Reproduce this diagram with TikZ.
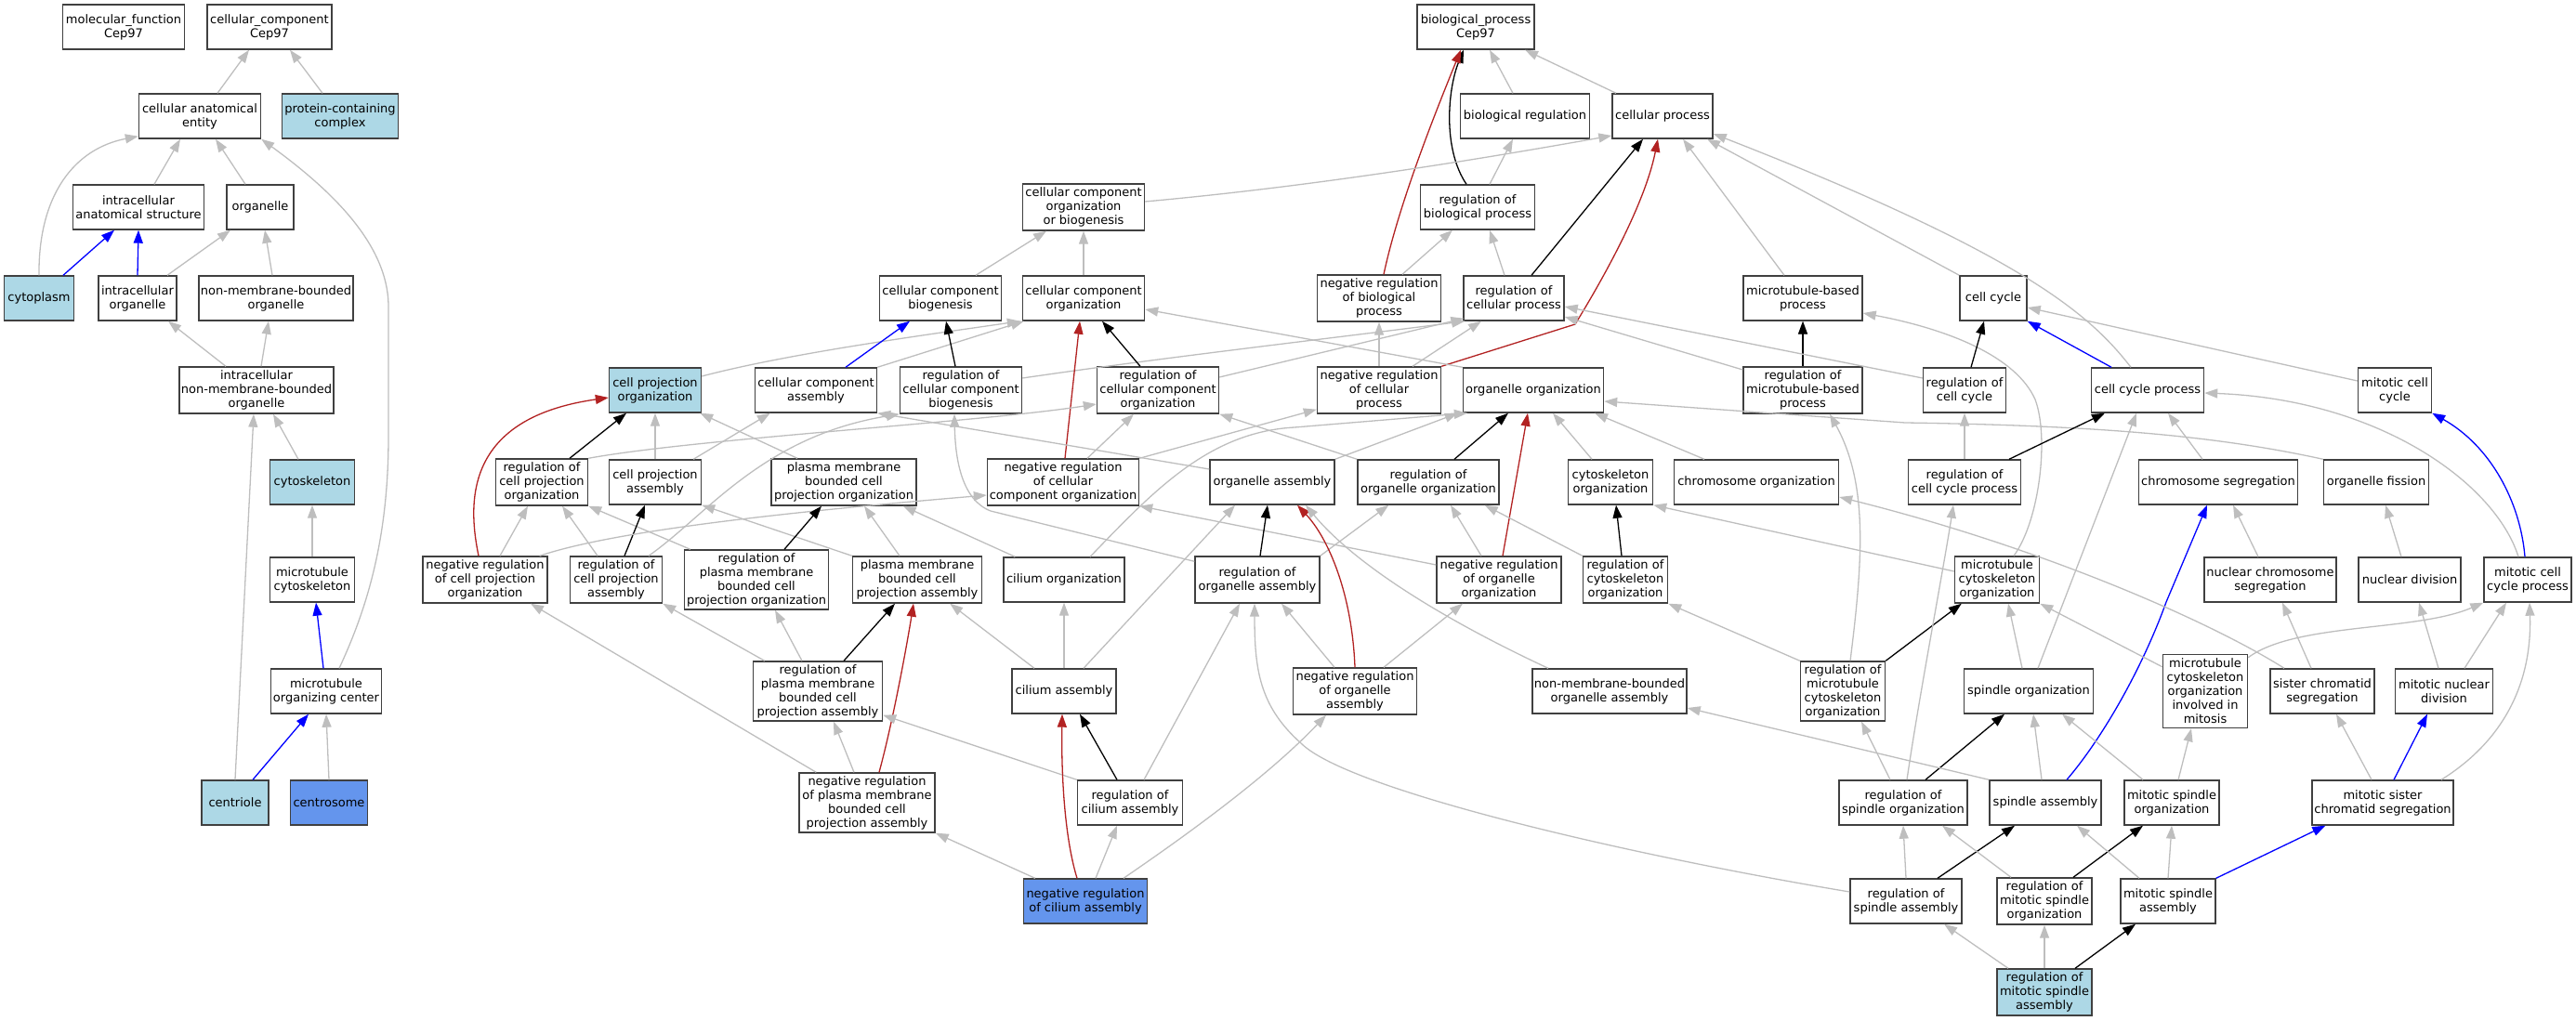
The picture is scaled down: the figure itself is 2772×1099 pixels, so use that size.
\documentclass[tikz,border=0pt]{standalone}
\usepackage{fontspec}
\setmainfont{DejaVu Sans}
\usetikzlibrary{arrows.meta}
\definecolor{lblue}{RGB}{173,216,230}
\definecolor{cblue}{RGB}{100,149,237}
\definecolor{egrey}{RGB}{190,190,190}
\definecolor{ered}{RGB}{178,34,34}
\definecolor{eblue}{RGB}{0,0,255}

\begin{document}
\begin{tikzpicture}[x=1pt, y=-1pt,
	box/.style={draw=black!75, line width=1.4pt, inner sep=0pt, align=center, font=\fontsize{13}{15}\selectfont},
	bx/.style 2 args={box, minimum width=#1, minimum height=#2},
	hit/.style={fill=lblue}, seed/.style={fill=cblue},
	isa/.style={draw=egrey, line width=1.3pt, -{Triangle[length=14pt,width=10pt]}},
	reg/.style={isa, draw=black},
	neg/.style={isa, draw=ered},
	partof/.style={isa, draw=eblue}]
	\useasboundingbox (0,0) rectangle (2772,1099);

	% cellular component
	\node[bx={131}{48}] (mf) at (133,29) {molecular\_function\\Cep97};
	\node[bx={134}{48}] (cc) at (290,29) {cellular\_component\\Cep97};
	\node[bx={131}{48}] (cae) at (215,125) {cellular anatomical\\entity};
	\node[bx={125}{48}, hit] (pcc) at (366,125) {protein-containing\\complex};
	\node[bx={141}{48}] (ias) at (149,223) {intracellular\\anatomical structure};
	\node[bx={72}{48}] (org) at (280,223) {organelle};
	\node[bx={75}{48}, hit] (cyto) at (42,321) {cytoplasm};
	\node[bx={84}{48}] (io) at (148,321) {intracellular\\organelle};
	\node[bx={166}{48}] (nmbo) at (297,321) {non-membrane-bounded\\organelle};
	\node[bx={166}{50}] (inmbo) at (276,420) {intracellular\\non-membrane-bounded\\organelle};
	\node[bx={91}{48}, hit] (csk) at (336,519) {cytoskeleton};
	\node[bx={91}{48}] (mtc) at (336,624) {microtubule\\cytoskeleton};
	\node[bx={119}{48}] (mtoc) at (351,744) {microtubule\\organizing center};
	\node[bx={72}{48}, hit] (cen) at (253,864) {centriole};
	\node[bx={83}{48}, seed] (csome) at (354,864) {centrosome};

	% biological process
	\node[bx={126}{48}] (bp) at (1588,29) {biological\_process\\Cep97};
	\node[bx={139}{48}] (breg) at (1641,125) {biological regulation};
	\node[bx={108}{48}] (cp) at (1789,125) {cellular process};
	\node[bx={131}{50}] (ccob) at (1166,223) {cellular component\\organization\\or biogenesis};
	\node[bx={123}{48}] (rbp) at (1590,223) {regulation of\\biological process};
	\node[bx={131}{48}] (ccb) at (1012,321) {cellular component\\biogenesis};
	\node[bx={131}{48}] (cco) at (1166,321) {cellular component\\organization};
	\node[bx={133}{50}] (nrbp) at (1484,321) {negative regulation\\of biological\\process};
	\node[bx={108}{48}] (rcp) at (1629,321) {regulation of\\cellular process};
	\node[bx={128}{48}] (mtbp) at (1940,321) {microtubule-based\\process};
	\node[bx={72}{48}] (ccyc) at (2145,321) {cell cycle};
	\node[bx={99}{48}, hit] (cpo) at (705,420) {cell projection\\organization};
	\node[bx={131}{48}] (cca) at (878,420) {cellular component\\assembly};
	\node[bx={131}{50}] (rccb) at (1034,420) {regulation of\\cellular component\\biogenesis};
	\node[bx={131}{50}] (rcco) at (1246,420) {regulation of\\cellular component\\organization};
	\node[bx={133}{50}] (nrcp) at (1484,420) {negative regulation\\of cellular\\process};
	\node[bx={151}{48}] (oo) at (1650,420) {organelle organization};
	\node[bx={128}{50}] (rmtbp) at (1940,420) {regulation of\\microtubule-based\\process};
	\node[bx={89}{48}] (rcc) at (2114,420) {regulation of\\cell cycle};
	\node[bx={121}{48}] (ccp) at (2311,420) {cell cycle process};
	\node[bx={79}{48}] (mcc) at (2577,420) {mitotic cell\\cycle};
	\node[bx={99}{50}] (rcpo) at (583,519) {regulation of\\cell projection\\organization};
	\node[bx={99}{48}] (cpa) at (705,519) {cell projection\\assembly};
	\node[bx={156}{50}] (pmbcpo) at (908,519) {plasma membrane\\bounded cell\\projection organization};
	\node[bx={163}{50}] (nrcco) at (1144,519) {negative regulation\\of cellular\\component organization};
	\node[bx={134}{48}] (oa) at (1369,519) {organelle assembly};
	\node[bx={152}{48}] (roo) at (1537,519) {regulation of\\organelle organization};
	\node[bx={91}{48}] (csko) at (1733,519) {cytoskeleton\\organization};
	\node[bx={177}{48}] (chro) at (1890,519) {chromosome organization};
	\node[bx={121}{48}] (rccp) at (2114,519) {regulation of\\cell cycle process};
	\node[bx={171}{48}] (chrs) at (2387,519) {chromosome segregation};
	\node[bx={113}{48}] (ofis) at (2557,519) {organelle fission};
	\node[bx={134}{50}] (nrcpo) at (522,624) {negative regulation\\of cell projection\\organization};
	\node[bx={99}{50}] (rcpa) at (663,624) {regulation of\\cell projection\\assembly};
	\node[bx={155}{64}] (rpmbcpo) at (814,624) {regulation of\\plasma membrane\\bounded cell\\projection organization};
	\node[bx={139}{50}] (pmbcpa) at (987,624) {plasma membrane\\bounded cell\\projection assembly};
	\node[bx={130}{48}] (cilo) at (1145,624) {cilium organization};
	\node[bx={134}{50}] (roa) at (1353,624) {regulation of\\organelle assembly};
	\node[bx={134}{50}] (nroo) at (1613,624) {negative regulation\\of organelle\\organization};
	\node[bx={91}{50}] (rcsko) at (1749,624) {regulation of\\cytoskeleton\\organization};
	\node[bx={91}{50}] (mtco) at (2149,624) {microtubule\\cytoskeleton\\organization};
	\node[bx={142}{48}] (nchrs) at (2443,624) {nuclear chromosome\\segregation};
	\node[bx={110}{48}] (ndiv) at (2593,624) {nuclear division};
	\node[bx={94}{48}] (mccp) at (2720,624) {mitotic cell\\cycle process};
	\node[bx={139}{64}] (rpmbcpa) at (880,744) {regulation of\\plasma membrane\\bounded cell\\projection assembly};
	\node[bx={112}{48}] (cila) at (1145,744) {cilium assembly};
	\node[bx={133}{50}] (nroa) at (1458,744) {negative regulation\\of organelle\\assembly};
	\node[bx={166}{48}] (nmboa) at (1732,744) {non-membrane-bounded\\organelle assembly};
	\node[bx={91}{64}] (rmtco) at (1983,744) {regulation of\\microtubule\\cytoskeleton\\organization};
	\node[bx={139}{48}] (spo) at (2183,744) {spindle organization};
	\node[bx={91}{79}] (mtcom) at (2373,744) {microtubule\\cytoskeleton\\organization\\involved in\\mitosis};
	\node[bx={112}{48}] (scs) at (2499,744) {sister chromatid\\segregation};
	\node[bx={105}{48}] (mnd) at (2630,744) {mitotic nuclear\\division};
	\node[bx={146}{64}] (nrpmbcpa) at (933,864) {negative regulation\\of plasma membrane\\bounded cell\\projection assembly};
	\node[bx={113}{48}] (rcila) at (1216,864) {regulation of\\cilium assembly};
	\node[bx={138}{48}] (rspo) at (2048,864) {regulation of\\spindle organization};
	\node[bx={120}{48}] (spa) at (2201,864) {spindle assembly};
	\node[bx={102}{48}] (mspo) at (2337,864) {mitotic spindle\\organization};
	\node[bx={152}{48}] (mscs) at (2564,864) {mitotic sister\\chromatid segregation};
	\node[bx={133}{48}, seed] (nrcila) at (1168,970) {negative regulation\\of cilium assembly};
	\node[bx={120}{48}] (rspa) at (2051,970) {regulation of\\spindle assembly};
	\node[bx={102}{50}] (rmspo) at (2200,970) {regulation of\\mitotic spindle\\organization};
	\node[bx={102}{48}] (mspa) at (2333,970) {mitotic spindle\\assembly};
	\node[bx={102}{50}, hit] (rmspa) at (2200,1068) {regulation of\\mitotic spindle\\assembly};

	% straight up
	\foreach \c/\p in {mtc/csk, csome/mtoc, cco/ccob, nrcp/nrbp, rmtbp/mtbp, rccp/rcc, cpa/cpo, cila/cilo, rspa/rspo, mspa/mspo, rmspa/rmspo}
		\draw[isa] (\c.north) -- (\p.south);
	\draw[reg] (rmtbp.north) -- (mtbp.south);

	% cellular component edges
	\draw[isa] ([xshift=19]cae.north) -- ([xshift=-22]cc.south);
	\draw[isa] ([xshift=-19]pcc.north) -- ([xshift=22]cc.south);
	\draw[isa] ([xshift=17]ias.north) -- ([xshift=-21]cae.south);
	\draw[isa] ([xshift=-16]org.north) -- ([xshift=17]cae.south);
	\draw[isa] (cyto.north) .. controls (41,210) and (80,160) .. ([yshift=3]cae.south west);
	\draw[isa] ([xshift=14]mtoc.north) .. controls (395,655) and (418,580) .. (418,470) -- (418,330) .. controls (418,260) and (350,200) .. (cae.south east);
	\draw[partof] ([xshift=26]cyto.north) -- ([xshift=-26]ias.south);
	\draw[partof] (io.north) -- (ias.south);
	\draw[isa] ([xshift=32]io.north) -- ([xshift=-32]org.south);
	\draw[isa] ([xshift=-4]nmbo.north) -- ([xshift=5]org.south);
	\draw[isa] ([xshift=-33]inmbo.north) -- ([xshift=33]io.south);
	\draw[isa] ([xshift=5]inmbo.north) -- ([xshift=-8]nmbo.south);
	\draw[isa] ([xshift=-15]csk.north) -- ([xshift=18]inmbo.south);
	\draw[isa] (cen.north) -- ([xshift=-3]inmbo.south);
	\draw[partof] ([xshift=-3]mtoc.north) -- ([xshift=4]mtc.south);
	\draw[partof] ([xshift=19]cen.north) -- ([xshift=-19]mtoc.south);

	% top of biological process
	\draw[isa] ([xshift=-13]breg.north) -- ([xshift=15]bp.south);
	\draw[isa] ([xshift=-50]cp.north) -- ([xshift=53]bp.south);
	\draw[reg] ([xshift=-12]rbp.north) .. controls (1552,160) and (1558,95) .. ([xshift=-13]bp.south);
	\draw[neg] ([xshift=5]nrbp.north) .. controls (1505,220) and (1545,120) .. ([xshift=-16]bp.south);
	\draw[isa] ([xshift=13]rbp.north) -- ([xshift=-13]breg.south);
	\draw[isa] ([yshift=6]ccob.east) .. controls (1420,200) and (1600,170) .. ([yshift=-21]cp.west);
	\draw[reg] ([xshift=19]rcp.north) -- ([xshift=-21]cp.south);
	\draw[neg] (nrcp.north east) -- (1695,349) .. controls (1725,300) and (1770,220) .. ([xshift=-5]cp.south);
	\draw[isa] ([xshift=-20]mtbp.north) -- ([xshift=22]cp.south);
	\draw[isa] (ccyc.north west) -- ([xshift=48]cp.south);
	\draw[isa] ([xshift=-18]ccp.north) .. controls (2250,340) and (2180,275) .. ([yshift=-19]cp.east);
	\draw[isa] ([xshift=38]ccb.north) -- ([xshift=-40]ccob.south);
	\draw[isa] ([xshift=25]nrbp.north) -- ([xshift=-27]rbp.south);
	\draw[isa] ([xshift=-10]rcp.north) -- ([xshift=13]rbp.south);
	\draw[isa] ([yshift=13]rccb.east) .. controls (1250,385) and (1450,362) .. ([xshift=2]rcp.south west);
	\draw[isa] ([yshift=14]rcco.east) -- ([xshift=1,yshift=3]rcp.south west);
	\draw[isa] ([xshift=36]nrcp.north) -- ([xshift=-35]rcp.south);
	\draw[isa] ([yshift=13]rcc.west) -- ([yshift=-9]rcp.east);
	\draw[isa] ([yshift=22]rmtbp.west) -- ([yshift=-20]rcp.east);

	% component organization
	\draw[isa] ([yshift=15]cpo.east) .. controls (850,380) and (1000,360) .. ([xshift=-2]cco.south west);
	\draw[isa] (cca.north east) -- ([xshift=2]cco.south west);
	\draw[reg] ([xshift=-6]rccb.north) -- ([xshift=6]ccb.south);
	\draw[reg] ([xshift=-19]rcco.north) -- ([xshift=20]cco.south);
	\draw[neg] ([xshift=2]nrcco.north) -- ([xshift=-4]cco.south);
	\draw[isa] (oo.north west) -- ([yshift=-12]cco.east);
	\draw[partof] ([xshift=32]cca.north) -- ([xshift=-33]ccb.south);
	\draw[neg] ([xshift=-7]nrcpo.north) .. controls (503,540) and (500,450) .. ([yshift=-8]cpo.west);
	\draw[reg] ([xshift=30]rcpo.north) -- ([xshift=-31]cpo.south);
	\draw[isa] ([xshift=-50]pmbcpo.north) -- ([xshift=-2]cpo.south east);
	\draw[isa] ([xshift=-9]cpa.north east) -- ([xshift=17]cca.south west);
	\draw[isa] ([yshift=14]oa.west) -- (cca.south east);
	\draw[isa] ([xshift=35]rcpa.north) .. controls (760,555) and (820,470) .. (rccb.south west);
	\draw[isa] ([yshift=-6]roa.north west) -- (1066,550) .. controls (1035,538) and (1028,495) .. ([xshift=-7]rccb.south);
	\draw[isa] (rcpo.north east) .. controls (750,472) and (1050,455) .. ([yshift=-15]rcco.west);
	\draw[isa] ([xshift=26]nrcco.north) -- ([xshift=-26]rcco.south);
	\draw[isa] (roo.north west) -- (rcco.south east);
	\draw[isa] (nrcco.north east) -- ([yshift=5]nrcp.south west);

	% organelle organization
	\draw[isa] (oa.north east) -- ([xshift=-5]oo.south west);
	\draw[isa] ([xshift=28]cilo.north) .. controls (1240,530) and (1300,465) .. (1393,460) -- ([xshift=5]oo.south west);
	\draw[reg] ([xshift=28]roo.north) -- ([xshift=-27]oo.south);
	\draw[neg] ([xshift=4]nroo.north) -- ([xshift=-6]oo.south);
	\draw[isa] ([xshift=-20]csko.north) -- ([xshift=21]oo.south);
	\draw[isa] ([xshift=-56]chro.north) -- ([xshift=66]oo.south);
	\draw[isa] (ofis.north west) .. controls (2380,468) and (2250,458) .. (2050,455) -- ([yshift=-12]oo.east);
	\draw[isa] ([xshift=18]mtco.north) .. controls (2195,560) and (2205,470) .. (2190,430) .. controls (2170,385) and (2100,355) .. ([yshift=-16]mtbp.east);

	% cell cycle
	\draw[reg] ([xshift=7]rcc.north) -- ([xshift=-10]ccyc.south);
	\draw[partof] ([xshift=-39]ccp.north) -- (ccyc.south east);
	\draw[isa] ([yshift=10]mcc.west) -- ([yshift=-10]ccyc.east);
	\draw[reg] ([xshift=48]rccp.north) -- ([xshift=-46]ccp.south);
	\draw[isa] ([xshift=-10]mccp.north) .. controls (2685,520) and (2560,430) .. ([yshift=-3]ccp.east);
	\draw[isa] ([xshift=10]spo.north) -- ([xshift=-12]ccp.south);
	\draw[isa] ([xshift=-17]chrs.north) -- ([xshift=22]ccp.south);
	\draw[partof] ([xshift=-3]mccp.north) .. controls (2712,540) and (2680,480) .. (mcc.south east);
	\draw[isa] ([yshift=-4]mtcom.north east) .. controls (2470,670) and (2600,680) .. (mccp.south west);
	\draw[isa] ([xshift=22]mnd.north) -- ([xshift=-23]mccp.south);
	\draw[isa] ([xshift=63]mscs.north) .. controls (2690,800) and (2725,740) .. ([xshift=2]mccp.south);
	\draw[isa] ([xshift=-6]mnd.north) -- ([xshift=10]ndiv.south);
	\draw[isa] ([xshift=-9]ndiv.north) -- ([xshift=10]ofis.south);
	\draw[isa] ([xshift=-13]nchrs.north) -- ([xshift=16]chrs.south);
	\draw[isa] ([xshift=-12]scs.north) -- ([xshift=13]nchrs.south);
	\draw[partof] ([xshift=23]spa.north) .. controls (2262,795) and (2305,720) .. (2331,648) -- ([xshift=-12]chrs.south);
	\draw[isa] ([xshift=-41]scs.north) .. controls (2380,670) and (2200,590) .. ([yshift=-16]chro.east);

	% cytoskeleton and spindle
	\draw[isa] ([yshift=9]mtco.west) -- (csko.south east);
	\draw[reg] ([xshift=-4]rcsko.north) -- ([xshift=6]csko.south);
	\draw[isa] (rmtco.north west) -- (rcsko.south east);
	\draw[isa] (rcsko.north west) -- ([xshift=-16]roo.south east);
	\draw[isa] ([xshift=-19]nroo.north) -- ([xshift=24]roo.south);
	\draw[isa] (roa.north east) -- ([xshift=34]roo.south west);
	\draw[isa] ([yshift=16]nroo.west) -- (nrcco.south east);
	\draw[isa] ([xshift=8]rmtco.north) .. controls (2005,600) and (2010,520) .. ([xshift=29]rmtbp.south);
	\draw[reg] (rmtco.north east) -- ([xshift=8]mtco.south west);
	\draw[isa] ([xshift=-7]spo.north) -- ([xshift=12]mtco.south);
	\draw[isa] ([yshift=-14]mtcom.north west) -- (mtco.south east);
	\draw[isa] ([xshift=7]mspo.north) -- ([xshift=-15]mtcom.south);
	\draw[isa] ([xshift=-12]mscs.north) -- ([xshift=15]scs.south);
	\draw[partof] ([xshift=12]mscs.north) -- ([xshift=-18]mnd.south);
	\draw[reg] ([xshift=24]rspo.north) -- ([xshift=-26]spo.south);
	\draw[isa] ([xshift=-4]spa.north) -- ([xshift=5]spo.south);
	\draw[isa] ([xshift=-31]mspo.north) -- ([xshift=36]spo.south);
	\draw[isa] (spa.north west) -- ([yshift=-18]nmboa.east);
	\draw[isa] ([xshift=4]rspo.north) .. controls (2065,750) and (2090,620) .. ([xshift=-12]rccp.south);
	\draw[isa] ([xshift=-14]rspo.north) -- ([xshift=20]rmtco.south);
	\draw[reg] ([xshift=34]rspa.north) -- ([xshift=-33]spa.south);
	\draw[isa] ([yshift=10]rspa.west) .. controls (1750,920) and (1450,850) .. (1400,800) .. controls (1355,760) and (1350,720) .. ([xshift=-3]roa.south);
	\draw[isa] ([xshift=-36]rmspo.north) -- ([xshift=42]rspo.south);
	\draw[reg] ([xshift=31]rmspo.north) -- ([xshift=-31]mspo.south);
	\draw[isa] ([xshift=-31]mspa.north) -- ([xshift=34]spa.south);
	\draw[partof] (mspa.north east) -- ([xshift=15]mscs.south west);
	\draw[isa] ([xshift=-39]rmspa.north) -- ([xshift=41]rspa.south);
	\draw[reg] ([xshift=33]rmspa.north) -- ([xshift=-35]mspa.south);

	% cell projection and cilium
	\draw[isa] ([xshift=16]nrcpo.north) -- ([xshift=-15]rcpo.south);
	\draw[isa] ([xshift=-20]rcpa.north) -- ([xshift=22]rcpo.south);
	\draw[isa] ([xshift=7]rpmbcpo.north west) -- (rcpo.south east);
	\draw[reg] ([xshift=9]rcpa.north) -- ([xshift=-11]cpa.south);
	\draw[isa] (pmbcpa.north west) -- (cpa.south east);
	\draw[isa] ([xshift=-9]nrcpo.north east) .. controls (650,575) and (800,555) .. ([yshift=-14]nrcco.west);
	\draw[isa] ([xshift=19]nrpmbcpa.north west) -- ([xshift=49]nrcpo.south);
	\draw[isa] ([xshift=13]rpmbcpa.north west) -- (rcpa.south east);
	\draw[reg] ([xshift=30]rpmbcpo.north) -- ([xshift=-24]pmbcpo.south);
	\draw[isa] ([xshift=-19]pmbcpa.north) -- ([xshift=22]pmbcpo.south);
	\draw[isa] ([xshift=13]cilo.north west) -- ([xshift=-15]pmbcpo.south east);
	\draw[isa] ([xshift=-17]rpmbcpa.north) -- ([xshift=20]rpmbcpo.south);
	\draw[reg] ([xshift=28]rpmbcpa.north) -- ([xshift=-24]pmbcpa.south);
	\draw[neg] ([xshift=13]nrpmbcpa.north) .. controls (960,780) and (975,700) .. ([xshift=-4]pmbcpa.south);
	\draw[isa] ([xshift=-32]cila.north) -- ([xshift=-35]pmbcpa.south east);
	\draw[isa] ([xshift=21]cila.north) -- ([xshift=-40]oa.south);
	\draw[isa] ([xshift=-14]nrpmbcpa.north) -- ([xshift=17]rpmbcpa.south);
	\draw[isa] (rcila.north west) -- ([yshift=7]rpmbcpa.south east);
	\draw[reg] ([xshift=-14]rcila.north) -- ([xshift=17]cila.south);
	\draw[neg] ([xshift=-9]nrcila.north) .. controls (1145,900) and (1142,830) .. ([xshift=-2]cila.south);
	\draw[isa] ([xshift=11]nrcila.north) -- ([xshift=-14]rcila.south);
	\draw[isa] ([xshift=13]nrcila.north west) -- (nrpmbcpa.south east);
	\draw[isa] ([xshift=41]nrcila.north) .. controls (1290,890) and (1370,830) .. ([xshift=-31]nroa.south);
	\draw[isa] ([xshift=15]rcila.north) -- ([xshift=-19]roa.south);
	\draw[isa] ([xshift=-22]nroa.north) -- ([xshift=26]roa.south);
	\draw[reg] ([xshift=3]roa.north) -- ([xshift=-5]oa.south);
	\draw[neg] (nroa.north) .. controls (1455,640) and (1430,580) .. ([xshift=27]oa.south);
	\draw[isa] ([xshift=31]nroa.north) -- ([xshift=-39]nroo.south);
	\draw[isa] ([xshift=-66]nmboa.north) .. controls (1560,670) and (1460,610) .. ([xshift=36]oa.south);
\end{tikzpicture}
\end{document}
